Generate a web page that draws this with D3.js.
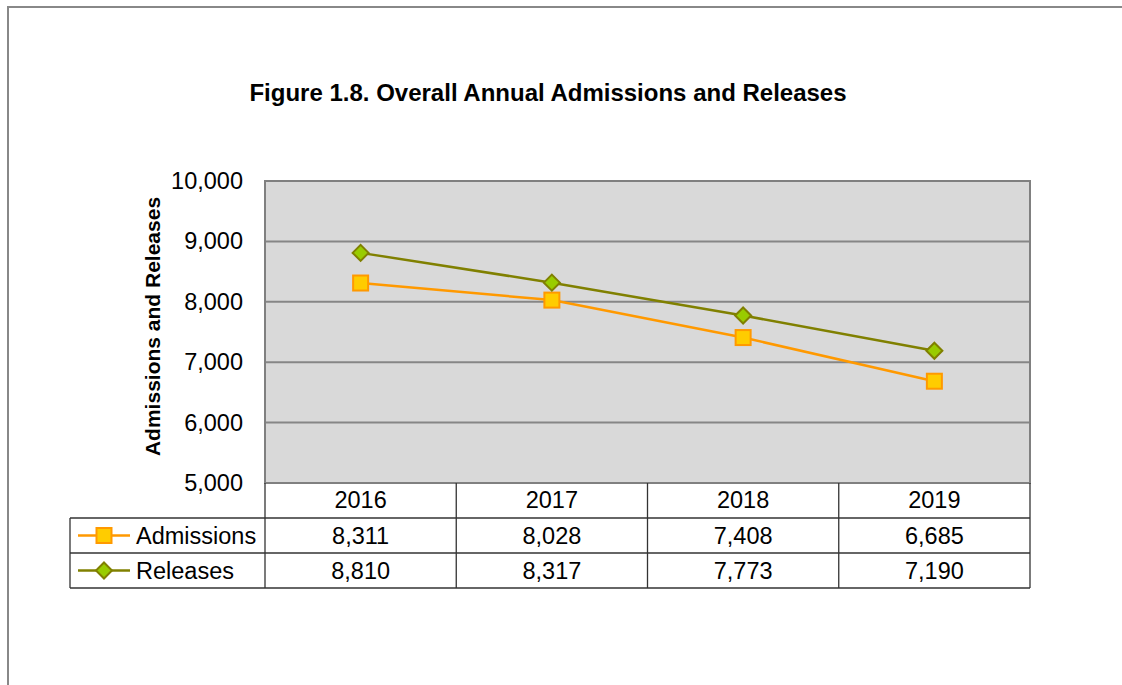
<!DOCTYPE html>
<html>
<head>
<meta charset="utf-8">
<script src="https://cdn.jsdelivr.net/npm/d3@7"></script>
<style>
  body { margin: 0; background: #fff; }
  text { font-family: "Liberation Sans", Arial, sans-serif; fill: #000; }
</style>
</head>
<body>
<svg id="chart" width="1122" height="685"></svg>
<script>
var years = ['2016', '2017', '2018', '2019'];
var admissions = [8311, 8028, 7408, 6685];
var releases = [8810, 8317, 7773, 7190];
var yTicks = [5000, 6000, 7000, 8000, 9000, 10000];

var series = [
  { name: 'Admissions', values: admissions, stroke: '#ff9900', fill: '#ffcc00', shape: 'square' },
  { name: 'Releases', values: releases, stroke: '#808000', fill: '#99cc00', shape: 'diamond' }
];

var svg = d3.select('#chart');
var fmt = d3.format(',');

// plot box
var pLeft = 265, pRight = 1030, pTop = 181, pBottom = 483;
var rowH = 35;
var fs = 23.5;

// outer frame
svg.append('path')
  .attr('d', 'M8,685 V7 H1122')
  .attr('fill', 'none')
  .attr('stroke', '#888')
  .attr('stroke-width', 2);

svg.append('text')
  .attr('x', 548).attr('y', 101)
  .attr('text-anchor', 'middle')
  .attr('font-size', 24).attr('font-weight', 'bold')
  .text('Figure 1.8. Overall Annual Admissions and Releases');

var x = d3.scaleBand().domain(years).range([pLeft, pRight]);
var y = d3.scaleLinear().domain([5000, 10000]).range([pBottom, pTop]);

// plot area
svg.append('rect')
  .attr('x', pLeft).attr('y', pTop)
  .attr('width', pRight - pLeft).attr('height', pBottom - pTop)
  .attr('fill', '#d9d9d9');

svg.append('g').selectAll('line').data(yTicks.slice(1, -1)).enter()
  .append('line')
  .attr('x1', pLeft).attr('x2', pRight)
  .attr('y1', function(d) { return y(d); })
  .attr('y2', function(d) { return y(d); })
  .attr('stroke', '#868686').attr('stroke-width', 2);

svg.append('rect')
  .attr('x', pLeft).attr('y', pTop)
  .attr('width', pRight - pLeft).attr('height', pBottom - pTop)
  .attr('fill', 'none')
  .attr('stroke', '#808080').attr('stroke-width', 2);

// y axis labels
var yAxis = d3.axisLeft(y).tickValues(yTicks).tickFormat(fmt).tickSize(0).tickPadding(22);
var yg = svg.append('g').attr('transform', 'translate(' + pLeft + ',0)').call(yAxis);
yg.select('.domain').remove();
yg.selectAll('text')
  .attr('font-size', fs)
  .attr('font-family', '"Liberation Sans", Arial, sans-serif')
  .attr('fill', '#000');

svg.append('text')
  .attr('transform', 'translate(160,326.5) rotate(-90)')
  .attr('text-anchor', 'middle')
  .attr('font-size', 21).attr('font-weight', 'bold')
  .text('Admissions and Releases');

// lines and markers
var line = d3.line()
  .x(function(d, i) { return x(years[i]) + x.bandwidth() / 2; })
  .y(function(d) { return y(d); });

series.forEach(function(s) {
  svg.append('path')
    .datum(s.values)
    .attr('d', line)
    .attr('fill', 'none')
    .attr('stroke', s.stroke)
    .attr('stroke-width', 2.5);
});

function drawMarker(g, s, cx, cy) {
  if (s.shape === 'square') {
    g.append('rect')
      .attr('x', cx - 7.5).attr('y', cy - 7.5)
      .attr('width', 15).attr('height', 15)
      .attr('fill', s.fill).attr('stroke', s.stroke).attr('stroke-width', 2);
  } else {
    g.append('path')
      .attr('d', 'M' + cx + ',' + (cy - 8) + ' L' + (cx + 8) + ',' + cy + ' L' + cx + ',' + (cy + 8) + ' L' + (cx - 8) + ',' + cy + 'Z')
      .attr('fill', s.fill).attr('stroke', s.stroke).attr('stroke-width', 2);
  }
}

series.forEach(function(s) {
  var g = svg.append('g');
  s.values.forEach(function(v, i) {
    drawMarker(g, s, x(years[i]) + x.bandwidth() / 2, y(v));
  });
});

// data table
var tbl = svg.append('g');
var tableLeft = 70;
var tableBottom = pBottom + rowH * 3;

x.domain().forEach(function(d) {
  tbl.append('line')
    .attr('x1', x(d) + x.bandwidth()).attr('x2', x(d) + x.bandwidth())
    .attr('y1', pBottom).attr('y2', tableBottom)
    .attr('stroke', '#333').attr('stroke-width', 1.3);
});
tbl.append('line')
  .attr('x1', pLeft).attr('x2', pLeft)
  .attr('y1', pBottom).attr('y2', tableBottom)
  .attr('stroke', '#333').attr('stroke-width', 1.3);
tbl.append('line')
  .attr('x1', tableLeft).attr('x2', tableLeft)
  .attr('y1', pBottom + rowH).attr('y2', tableBottom)
  .attr('stroke', '#333').attr('stroke-width', 1.3);
[1, 2, 3].forEach(function(r) {
  tbl.append('line')
    .attr('x1', tableLeft).attr('x2', pRight)
    .attr('y1', pBottom + rowH * r).attr('y2', pBottom + rowH * r)
    .attr('stroke', '#333').attr('stroke-width', 1.3);
});

tbl.selectAll('text.year').data(years).enter()
  .append('text')
  .attr('class', 'year')
  .attr('x', function(d) { return x(d) + x.bandwidth() / 2; })
  .attr('y', pBottom + 25)
  .attr('text-anchor', 'middle')
  .attr('font-size', fs)
  .text(function(d) { return d; });

series.forEach(function(s, r) {
  var cy = pBottom + rowH * (r + 1) + rowH / 2;
  tbl.append('line')
    .attr('x1', 78).attr('x2', 130)
    .attr('y1', cy).attr('y2', cy)
    .attr('stroke', s.stroke).attr('stroke-width', 2.5);
  drawMarker(tbl, s, 104, cy);
  tbl.append('text')
    .attr('x', 136).attr('y', cy + 8)
    .attr('font-size', fs)
    .text(s.name);
  tbl.selectAll(null).data(s.values).enter()
    .append('text')
    .attr('x', function(d, i) { return x(years[i]) + x.bandwidth() / 2; })
    .attr('y', cy + 8)
    .attr('text-anchor', 'middle')
    .attr('font-size', fs)
    .text(function(d) { return fmt(d); });
});
</script>
</body>
</html>
